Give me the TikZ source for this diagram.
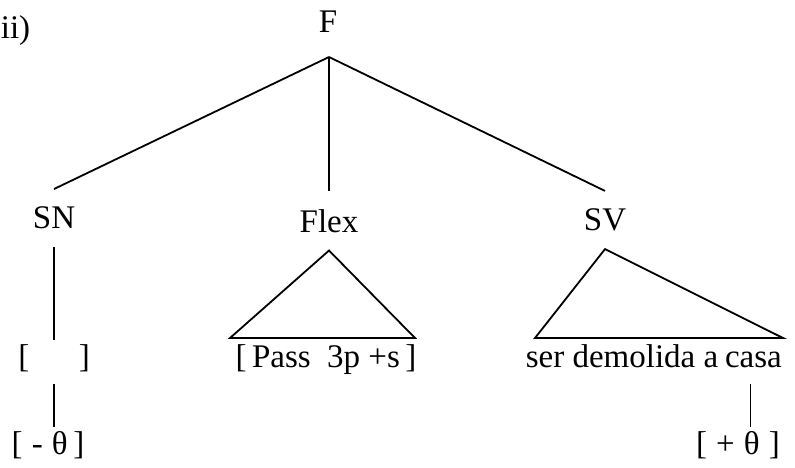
\documentclass[tikz,border=0pt]{standalone}
\usepackage{fontspec}
\setmainfont{Liberation Serif}
\usetikzlibrary{positioning}
\tikzset{
  cat/.style={inner xsep=2pt, inner ysep=8.5pt},
  feat/.style={inner xsep=1pt, inner ysep=6pt, text height=0.7em, text depth=0.2em},
}

\begin{document}
\begin{tikzpicture}[x=0.5pt, y=-0.5pt, line width=0.9pt, font=\fontsize{16.5}{19}\selectfont]
  \useasboundingbox (0,0) rectangle (795,467);

  \node[anchor=west, inner sep=0pt] (num) at (0,31) {ii)};
  \node[cat] (F) at (328,22) {F};
  \coordinate (root) at (329,57);

  \node[cat] (SN) at (54,218) {SN};
  \node[cat] (Flex) at (329,221) {Flex};
  \node[cat] (SV) at (605,220) {SV};

  \draw (root) -- (SN.north);
  \draw (root) -- (Flex.north);
  \draw (root) -- (SV.north);

  % triangles
  \coordinate (flexL) at (230,338);
  \coordinate (flexR) at (415,338);
  \draw (Flex.south) -- (flexL) -- (flexR) -- cycle;
  \coordinate (svL) at (535,338);
  \coordinate (svR) at (783,338);
  \draw (SV.south) -- (svL) -- (svR) -- cycle;

  \node[feat] (empty) at (54,362) {[\hspace{1.5em}]};
  \node[feat] (minus) at (48,449) {[\;-\;θ\,]};
  \draw (SN.south) -- (empty.north);
  \draw (empty.south) -- (empty.south |- minus.north);

  \node[feat] (pass) at (326,362) {[\,Pass~~3p~+s\,]};

  \node[feat, inner xsep=0pt] (phrase) at (622,362) {ser demolida a};
  \node[feat, inner xsep=0pt, anchor=base west] (casa) at ([xshift=0.25em]phrase.base east) {casa};
  \node[feat] (plus) at (738,449) {[\;+\;θ\;]};
  \draw ([xshift=-1.5pt]casa.south) -- ([xshift=-1.5pt]casa.south |- plus.north);
\end{tikzpicture}
\end{document}
